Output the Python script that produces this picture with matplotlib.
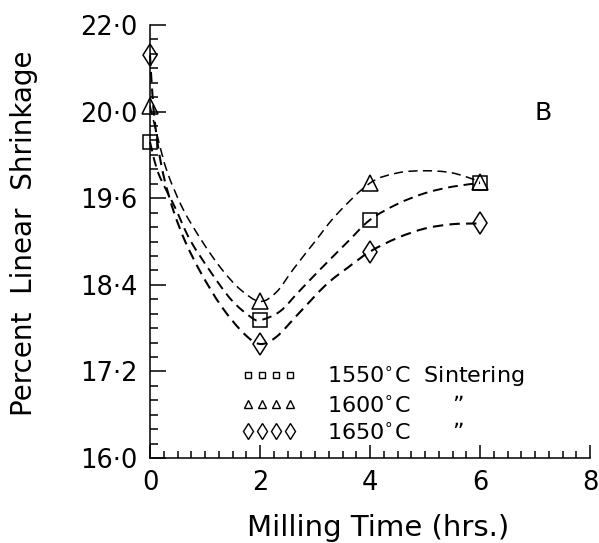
import matplotlib

matplotlib.use("Agg")
import matplotlib.pyplot as plt
from matplotlib.lines import Line2D
from matplotlib.patches import PathPatch
from matplotlib.path import Path
import numpy as np

# measured shrinkage at each milling time
time_hrs = [0, 2, 4, 6]
shrink_1550 = [20.38, 17.91, 19.30, 19.81]
shrink_1600 = [20.88, 18.17, 19.81, 19.83]
shrink_1650 = [21.58, 17.58, 18.86, 19.25]

# hand drawn fit curves
fit_t_1550 = [0, 0.15, 0.45, 0.73, 1.12, 1.48, 1.82, 2.0, 2.36, 2.7, 3.09, 3.6, 4.0, 4.5, 5.0, 5.5, 6.0]
fit_v_1550 = [20.38, 19.95, 19.48, 19.02, 18.56, 18.19, 17.96, 17.91, 18.03, 18.3, 18.61, 19.0, 19.30, 19.52, 19.67, 19.76, 19.81]
fit_t_1600 = [0, 0.15, 0.32, 0.6, 0.95, 1.3, 1.65, 2.0, 2.3, 2.6, 3.0, 3.4, 4.0, 4.5, 5.0, 5.5, 6.0]
fit_v_1600 = [20.88, 20.41, 19.95, 19.45, 19.0, 18.62, 18.33, 18.17, 18.3, 18.61, 19.0, 19.38, 19.81, 19.95, 19.98, 19.95, 19.83]
fit_t_1650 = [0, 0.06, 0.14, 0.25, 0.42, 0.64, 0.93, 1.3, 1.7, 2.0, 2.3, 2.7, 3.2, 3.6, 4.0, 4.5, 5.0, 5.5, 6.0]
fit_v_1650 = [21.58, 20.87, 20.35, 19.9, 19.44, 19.0, 18.56, 18.10, 17.73, 17.58, 17.68, 18.0, 18.4, 18.64, 18.86, 19.05, 19.18, 19.24, 19.25]

x_ticks = [0, 2, 4, 6, 8]
y_ticks = [16.0, 17.2, 18.4, 19.6, 20.8, 22.0]
y_ticklabels = ["16·0", "17·2", "18·4", "19·6", "20·0", "22·0"]

legend_labels = [
    "1550$^{\\circ}$C  Sintering",
    "1600$^{\\circ}$C      \u201d",
    "1650$^{\\circ}$C      \u201d",
]


def smooth_curve(t, v):
    # Catmull-Rom through the traced points, as cubic Bezier segments
    p = np.column_stack([t, v]).astype(float)
    ext = np.vstack([p[0], p, p[-1]])
    verts = [p[0]]
    codes = [Path.MOVETO]
    for i in range(1, len(ext) - 2):
        c1 = ext[i] + (ext[i + 1] - ext[i - 1]) / 6
        c2 = ext[i + 1] - (ext[i + 2] - ext[i]) / 6
        verts += [c1, c2, ext[i + 1]]
        codes += [Path.CURVE4] * 3
    return Path(verts, codes)


plt.rcParams["font.family"] = ["DejaVu Sans"]

fig = plt.figure(figsize=(5.99, 5.43), dpi=100)
ax = fig.add_axes([150 / 599, 1 - 458 / 543, 440 / 599, 433 / 543])

# fitted curves
for t, v, lw, dash in [
    (fit_t_1550, fit_v_1550, 1.4, (5, 3)),
    (fit_t_1600, fit_v_1600, 1.1, (6, 3.5)),
    (fit_t_1650, fit_v_1650, 1.5, (5, 3)),
]:
    patch = PathPatch(smooth_curve(t, v), fill=False, ec="k", lw=lw,
                      ls=(0, dash), clip_on=False)
    ax.add_patch(patch)

# data markers
mk = dict(ls="none", mfc="none", mec="k", mew=1.1, clip_on=False, zorder=3)
ax.plot(time_hrs, shrink_1550, marker="s", ms=10, **mk)
ax.plot(time_hrs, shrink_1600, marker="^", ms=12, **mk)
ax.plot(time_hrs, shrink_1650, marker="d", ms=11.7, **mk)

ax.set_xlim(0, 8)
ax.set_ylim(16.0, 22.0)
ax.set_xticks(x_ticks)
ax.set_xticks(np.arange(0, 8.01, 0.25), minor=True)
ax.set_yticks(y_ticks, y_ticklabels)
ax.set_yticks(np.arange(16.0, 22.01, 0.2), minor=True)

for side in ["top", "right"]:
    ax.spines[side].set_visible(False)
for side in ["left", "bottom"]:
    ax.spines[side].set_linewidth(1.1)

ax.tick_params(which="both", direction="in", width=1.1, labelsize=18.5, pad=9)
ax.tick_params(axis="y", which="major", length=11.5)
ax.tick_params(axis="y", which="minor", length=5.8)
ax.tick_params(axis="x", which="major", length=9.4)
ax.tick_params(axis="x", which="minor", length=4.8)

ax.set_xlabel("Milling Time (hrs.)", fontsize=21)
ax.set_ylabel("Percent  Linear  Shrinkage", fontsize=20)
ax.xaxis.set_label_coords(0.518, -0.162)
ax.xaxis.label.set_va("center")
ax.yaxis.set_label_coords(-0.286, 0.52)
ax.yaxis.label.set_va("center")

ax.text(0.893, 0.797, "B", transform=ax.transAxes, fontsize=18, ha="center", va="center")

handles = [
    Line2D([], [], ls="none", marker="s", ms=5, mfc="none", mec="k", mew=1),
    Line2D([], [], ls="none", marker="^", ms=6, mfc="none", mec="k", mew=1),
    Line2D([], [], ls="none", marker="d", ms=8, mfc="none", mec="k", mew=1),
]
ax.legend(
    handles,
    legend_labels,
    numpoints=4,
    loc="upper left",
    bbox_to_anchor=(241 / 599, 1 - 364 / 543),
    bbox_transform=fig.transFigure,
    frameon=False,
    fontsize=16,
    handlelength=2.5,
    handletextpad=1.35,
    labelspacing=0.27,
    borderpad=0,
    borderaxespad=0,
)

fig.savefig("out.png", dpi=100)
